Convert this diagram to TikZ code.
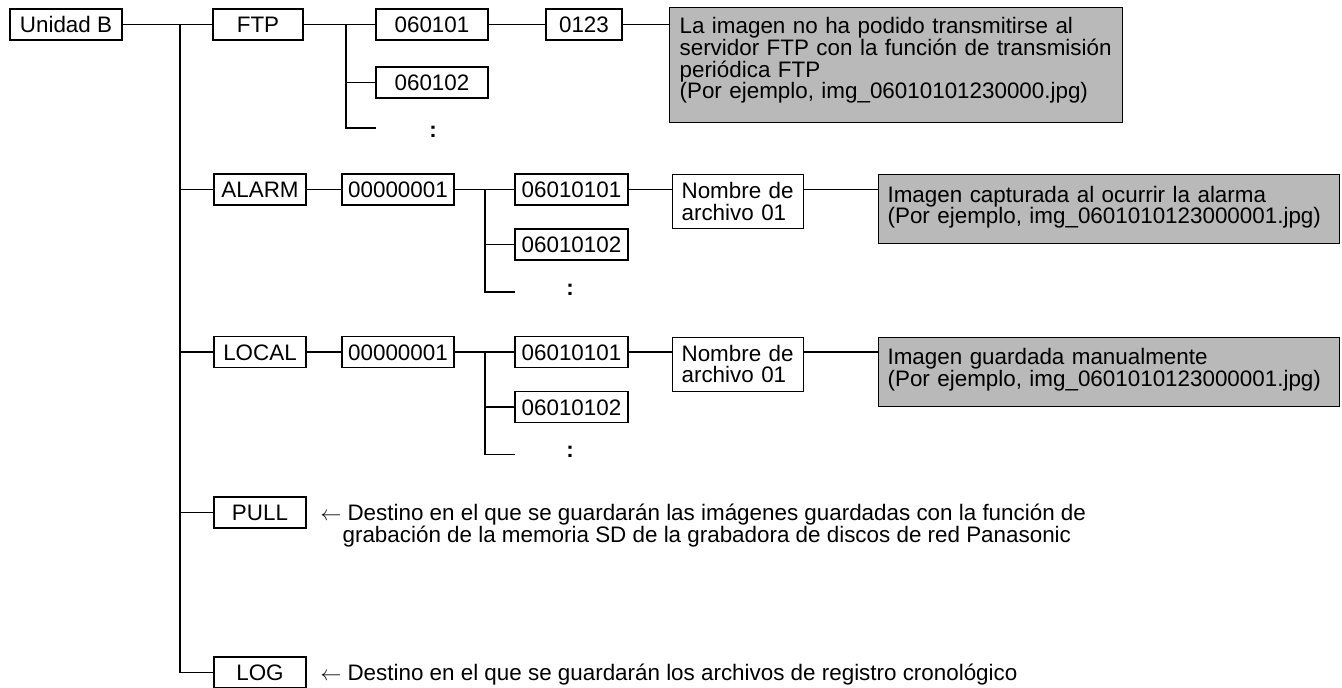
\documentclass[tikz,border=0pt]{standalone}
\usepackage{fontspec}
\setmainfont{Liberation Sans}
\definecolor{boxgray}{RGB}{185,185,185}
\newcommand\fsz{\fontsize{22.4}{21.7}\selectfont}
\newcommand\dep[1]{\rule[-#1pt]{0pt}{#1pt}}
\begin{document}
\begin{tikzpicture}[x=1pt,y=-1pt,line width=1.2pt,
  box/.style={draw,inner sep=0pt,minimum height=31pt,text height=16pt,text depth=0pt,font=\fsz},
  mbox/.style={draw,anchor=north west,inner ysep=0pt,align=left,font=\fsz},
  gbox/.style={mbox,fill=boxgray},
  dots/.style={anchor=base,inner sep=0pt,font=\fsz\bfseries},
  note/.style={anchor=base west,inner sep=0pt,font=\fsz}]
\useasboundingbox (0,0) rectangle (1342,688);
% level 0 / 1
\node[box,minimum width=112pt] (ub) at (66,24.5) {Unidad B};
\node[box,minimum width=90pt] (ftp) at (258,24.5) {FTP};
\node[box,minimum width=92pt] (alarm) at (260,189.5) {ALARM};
\node[box,minimum width=92pt] (local) at (260,352) {LOCAL};
\node[box,minimum width=92pt] (pull) at (260,512.5) {PULL};
\node[box,minimum width=92pt] (log) at (260,672.5) {LOG};
\coordinate (tr) at (180,24.5);
\draw (ub) -- (ftp);
\draw (tr) |- (log.west);
\draw (alarm.west) -- (alarm.west -| tr);
\draw (local.west) -- (local.west -| tr);
\draw (pull.west) -- (pull.west -| tr);
% FTP branch
\node[box,minimum width=112pt] (f1) at (432,24.5) {060101};
\node[box,minimum width=112pt] (f2) at (432,82.5) {060102};
\node[dots] (fc) at (433,137) {:};
\node[box,minimum width=76pt] (f3) at (584,24.5) {0123};
\node[gbox,text width=433pt,inner xsep=10pt,minimum height=115pt] (fg) at (669,7)
  {La imagen no ha podido transmitirse al\\servidor FTP con la función de transmisión\\periódica FTP\\(Por ejemplo, img\_06010101230000.jpg)\dep{14}};
\coordinate (fb) at (346,24.5);
\coordinate (fe) at (376,128);
\draw (ftp) -- (f1);
\draw (fb) |- (fe);
\draw (f2.west) -- (f2.west -| fb);
\draw (f1) -- (f3);
\draw (f3.east) -- (f3.east -| fg.west);
% ALARM branch
\node[box,minimum width=112pt] (a0) at (398,189.5) {00000001};
\node[box,minimum width=113pt] (a1) at (571.5,189.5) {06010101};
\node[box,minimum width=113pt] (a2) at (571.5,244.5) {06010102};
\node[dots] (ac) at (570,295) {:};
\node[mbox,text width=113pt,inner xsep=9pt,minimum height=54pt] (an) at (672,174) {Nombre de\\archivo 01};
\node[gbox,text width=443pt,inner xsep=9pt,minimum height=69pt] (ag) at (878,174)
  {Imagen capturada al ocurrir la alarma\\(Por ejemplo, img\_0601010123000001.jpg)\dep{8.5}};
\coordinate (ab) at (485,189.5);
\coordinate (ae) at (515,292);
\draw (alarm) -- (a0);
\draw (a0) -- (a1);
\draw (ab) |- (ae);
\draw (a2.west) -- (a2.west -| ab);
\draw (a1.east) -- (a1.east -| an.west);
\draw (an.east |- a1.east) -- (a1.east -| ag.west);
% LOCAL branch
\node[box,minimum width=112pt] (l0) at (398,352) {00000001};
\node[box,minimum width=113pt] (l1) at (571.5,352) {06010101};
\node[box,minimum width=113pt] (l2) at (571.5,407) {06010102};
\node[dots] (lc) at (570,457.5) {:};
\node[mbox,text width=113pt,inner xsep=9pt,minimum height=54pt] (ln) at (672,336.5) {Nombre de\\archivo 01};
\node[gbox,text width=443pt,inner xsep=9pt,minimum height=69pt] (lg) at (878,336.5)
  {Imagen guardada manualmente\\(Por ejemplo, img\_0601010123000001.jpg)\dep{8.5}};
\coordinate (lb) at (485,352);
\coordinate (le) at (515,454.5);
\draw (local) -- (l0);
\draw (l0) -- (l1);
\draw (lb) |- (le);
\draw (l2.west) -- (l2.west -| lb);
\draw (l1.east) -- (l1.east -| ln.west);
\draw (ln.east |- l1.east) -- (l1.east -| lg.west);
% notes
\node[note] (pt1) at (320,520) {$\leftarrow$ Destino en el que se guardarán las imágenes guardadas con la función de};
\node[note] (pt2) at (342,542) {grabación de la memoria SD de la grabadora de discos de red Panasonic};
\node[note] (lt) at (320,680.5) {$\leftarrow$ Destino en el que se guardarán los archivos de registro cronológico};
\end{tikzpicture}
\end{document}
